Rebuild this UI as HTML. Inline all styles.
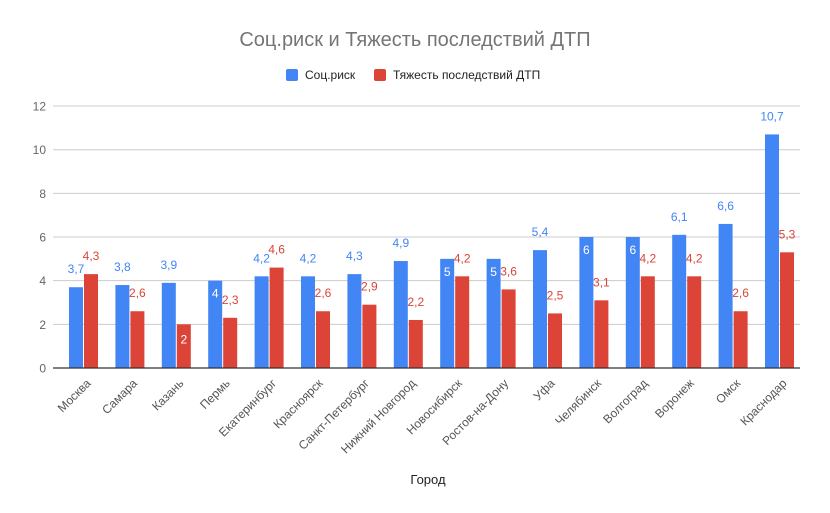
<!DOCTYPE html>
<html><head><meta charset="utf-8"><style>
body{margin:0;background:#fff;}
svg{display:block;font-family:"Liberation Sans",Roboto,sans-serif;}
</style></head><body>
<svg id="s" width="830" height="513" xmlns="http://www.w3.org/2000/svg">
<rect width="830" height="513" fill="#fff"/>
<text x="415" y="46" text-anchor="middle" font-size="20" fill="#757575">Соц.риск и Тяжесть последствий ДТП</text>
<rect x="286" y="69" width="12" height="12" rx="2" fill="#4285f4"/>
<text x="305" y="79" font-size="12" fill="#222">Соц.риск</text>
<rect x="374" y="69" width="12" height="12" rx="2" fill="#db4437"/>
<text x="393" y="79" font-size="12" fill="#222">Тяжесть последствий ДТП</text>
<text x="428" y="484" text-anchor="middle" font-size="13" fill="#222">Город</text>
</svg>
<script>
var s=document.getElementById('s'),NS='http://www.w3.org/2000/svg';
function el(t,a,txt){var e=document.createElementNS(NS,t);for(var k in a)e.setAttribute(k,a[k]);if(txt!=null)e.textContent=txt;s.appendChild(e);return e;}
var y0=368,u=21.83;
for(var v=0;v<=12;v+=2){var y=y0-v*u;
 if(v>0)el('line',{x1:53,x2:800,y1:y,y2:y,stroke:'#cccccc','stroke-width':1});
 el('text',{x:46,y:y+4.5,'text-anchor':'end','font-size':12,fill:'#666'},String(v));}
var d=[["Москва",3.7,4.3],["Самара",3.8,2.6],["Казань",3.9,2],["Пермь",4,2.3],["Екатеринбург",4.2,4.6],["Красноярск",4.2,2.6],["Санкт-Петербург",4.3,2.9],["Нижний Новгород",4.9,2.2],["Новосибирск",5,4.2],["Ростов-на-Дону",5,3.6],["Уфа",5.4,2.5],["Челябинск",6,3.1],["Волгоград",6,4.2],["Воронеж",6.1,4.2],["Омск",6.6,2.6],["Краснодар",10.7,5.3]];
var inB={"Пермь":1,"Новосибирск":1,"Ростов-на-Дону":1,"Челябинск":1,"Волгоград":1},inR={"Казань":1};
function f(v){return String(v).replace('.',',');}
d.forEach(function(r,i){var c=83.5+i*46.4;
 var hb=r[1]*u,hr=r[2]*u;
 el('rect',{x:c-14.5,y:y0-hb,width:14,height:hb,fill:'#4285f4'});
 el('rect',{x:c+0.5,y:y0-hr,width:14,height:hr,fill:'#db4437'});
 if(inB[r[0]])el('text',{x:c-7.5,y:y0-hb+17,'text-anchor':'middle','font-size':12,fill:'#fff'},f(r[1]));
 else el('text',{x:c-7.5,y:y0-hb-14,'text-anchor':'middle','font-size':12,fill:'#4285f4'},f(r[1]));
 if(inR[r[0]])el('text',{x:c+7.5,y:y0-hr+19,'text-anchor':'middle','font-size':12,fill:'#fff'},f(r[2]));
 else el('text',{x:c+7.5,y:y0-hr-14,'text-anchor':'middle','font-size':12,fill:'#db4437'},f(r[2]));
 el('text',{x:0,y:0,'text-anchor':'end','font-size':12,fill:'#555',transform:'translate('+(c+8)+',384) rotate(-45)'},r[0]);
});
el('line',{x1:53,x2:800,y1:y0,y2:y0,stroke:'#333','stroke-width':1.2});
</script>
</body></html>
